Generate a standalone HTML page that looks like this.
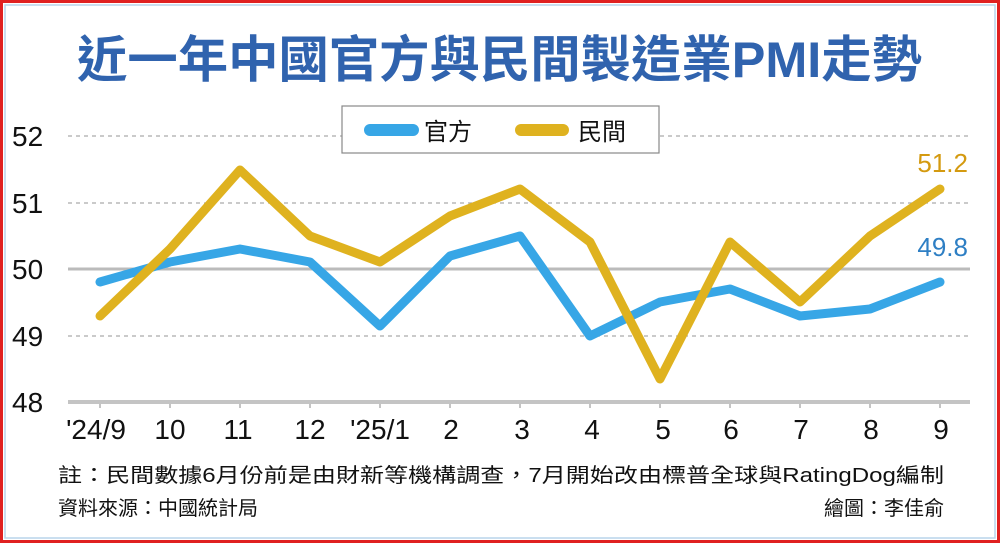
<!DOCTYPE html>
<html><head><meta charset="utf-8"><style>
html,body{margin:0;padding:0;background:#fff}
svg{display:block}
text{font-family:"Liberation Sans","Noto Sans CJK TC",sans-serif}
</style></head><body>
<svg width="1000" height="543" viewBox="0 0 1000 543">
<rect x="1.5" y="1.5" width="997" height="540" fill="#fff" stroke="#e02020" stroke-width="3"/>
<rect x="5" y="5" width="990" height="533" fill="#fff" stroke="#b8d4ea" stroke-width="1.5"/>
<text x="77" y="77" font-size="50" font-weight="bold" fill="#3063ae" textLength="845" lengthAdjust="spacingAndGlyphs">近一年中國官方與民間製造業PMI走勢</text>
<g stroke="#aaa" stroke-width="1.2" stroke-dasharray="4,4">
<line x1="68" y1="136" x2="970" y2="136"/>
<line x1="68" y1="203" x2="970" y2="203"/>
<line x1="68" y1="336" x2="970" y2="336"/>
</g>
<line x1="68" y1="269" x2="970" y2="269" stroke="#bbb" stroke-width="3"/>
<line x1="68" y1="402" x2="970" y2="402" stroke="#c4c4c4" stroke-width="4"/>
<g stroke="#c4c4c4" stroke-width="2">
<line x1="100" y1="402" x2="100" y2="408"/><line x1="170" y1="402" x2="170" y2="408"/><line x1="240" y1="402" x2="240" y2="408"/><line x1="310" y1="402" x2="310" y2="408"/><line x1="380" y1="402" x2="380" y2="408"/><line x1="450" y1="402" x2="450" y2="408"/><line x1="520" y1="402" x2="520" y2="408"/><line x1="590" y1="402" x2="590" y2="408"/><line x1="660" y1="402" x2="660" y2="408"/><line x1="730" y1="402" x2="730" y2="408"/><line x1="800" y1="402" x2="800" y2="408"/><line x1="870" y1="402" x2="870" y2="408"/><line x1="940" y1="402" x2="940" y2="408"/>
</g>
<g font-size="28" fill="#111">
<text x="12" y="146">52</text><text x="12" y="213">51</text><text x="12" y="279">50</text><text x="12" y="346">49</text><text x="12" y="412">48</text>
</g>
<g font-size="28" fill="#111" text-anchor="middle">
<text x="96" y="439">'24/9</text><text x="170" y="439">10</text><text x="238" y="439">11</text><text x="310" y="439">12</text><text x="380" y="439">'25/1</text><text x="451" y="439">2</text><text x="522" y="439">3</text><text x="592" y="439">4</text><text x="663" y="439">5</text><text x="731" y="439">6</text><text x="801" y="439">7</text><text x="871" y="439">8</text><text x="941" y="439">9</text>
</g>
<polyline fill="none" stroke="#37a6e6" stroke-width="9" stroke-linejoin="round" stroke-linecap="round"
points="100,282 170,262 240,249 310,262 380,326 450,256 520,236 590,336 660,302 730,289 800,316 870,309 940,282"/>
<polyline fill="none" stroke="#dfb21f" stroke-width="9" stroke-linejoin="round" stroke-linecap="round"
points="100,316 170,249 240,170 310,236 380,262 450,216 520,189 590,242 660,379 730,242 800,302 870,236 940,189"/>
<text x="968" y="172" text-anchor="end" font-size="26" fill="#d49a10">51.2</text>
<text x="968" y="256" text-anchor="end" font-size="26" fill="#2e7fc4">49.8</text>
<rect x="342" y="106" width="317" height="47" fill="#fff" stroke="#888" stroke-width="1.2"/>
<line x1="370" y1="130" x2="413" y2="130" stroke="#37a6e6" stroke-width="12" stroke-linecap="round"/>
<text x="424" y="140" font-size="24" fill="#111">官方</text>
<line x1="521" y1="130" x2="563" y2="130" stroke="#dfb21f" stroke-width="12" stroke-linecap="round"/>
<text x="578" y="140" font-size="24" fill="#111">民間</text>
<text x="58" y="482" font-size="20" fill="#111" textLength="886" lengthAdjust="spacingAndGlyphs">註：民間數據6月份前是由財新等機構調查，7月開始改由標普全球與RatingDog編制</text>
<text x="58" y="515" font-size="20" fill="#111">資料來源：中國統計局</text>
<text x="944" y="515" text-anchor="end" font-size="20" fill="#111">繪圖：李佳俞</text>
</svg>
</body></html>
